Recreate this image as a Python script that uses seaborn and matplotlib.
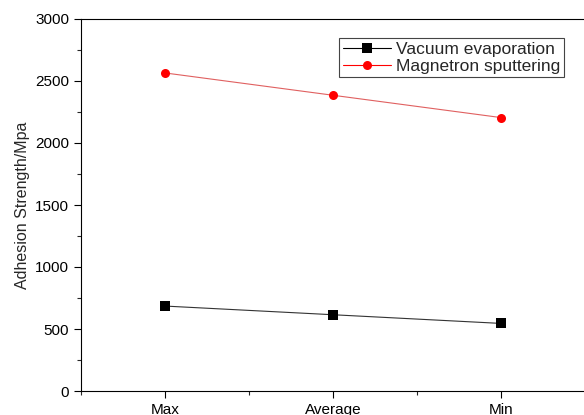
import matplotlib
matplotlib.use("Agg")
import matplotlib.pyplot as plt
import seaborn as sns
import pandas as pd
from matplotlib.ticker import MultipleLocator

categories = ["Max", "Average", "Min"]
vacuum = [685, 615, 545]
magnetron = [2565, 2385, 2205]
series_names = ["Vacuum evaporation", "Magnetron sputtering"]

df = pd.DataFrame({
    "cat": list(range(len(categories))) * 2,
    "value": vacuum + magnetron,
    "series": [series_names[0]] * 3 + [series_names[1]] * 3,
})

sns.set_style("ticks")
plt.rcParams["font.family"] = ["Liberation Sans", "DejaVu Sans"]

fig = plt.figure(figsize=(5.84, 4.15), dpi=100)
ax = fig.add_axes([81 / 584, 24 / 415, 504 / 584, 372 / 415])

sns.lineplot(data=df, x="cat", y="value", hue="series", style="series",
             markers={series_names[0]: "s", series_names[1]: "o"},
             dashes=False,
             palette={series_names[0]: "black", series_names[1]: "red"},
             linewidth=0.8, markersize=6.5, markeredgewidth=0, ax=ax)

for line, c in zip(ax.lines, ["#333333", "#e06060"]):
    line.set_color(c)
    line.set_markerfacecolor("black" if c == "#333333" else "red")
    line.set_markeredgecolor("black" if c == "#333333" else "red")

ax.set_xlim(-0.5, 2.5)
ax.set_ylim(0, 3000)
ax.set_xticks(range(len(categories)))
ax.set_xticklabels(categories)
ax.xaxis.set_minor_locator(MultipleLocator(0.5))
ax.yaxis.set_major_locator(MultipleLocator(500))
ax.yaxis.set_minor_locator(MultipleLocator(250))
ax.tick_params(axis="both", which="major", direction="out", length=5, width=0.8,
               labelsize=11, colors="black")
ax.tick_params(axis="both", which="minor", direction="out", length=3, width=0.8)
ax.set_xlabel("")
ax.set_ylabel("Adhesion Strength/Mpa", fontsize=11.5)
for s in ax.spines.values():
    s.set_linewidth(0.8)
    s.set_color("black")
ax.spines["right"].set_visible(False)

handles, labels = ax.get_legend_handles_labels()
for h, c in zip(handles, ["black", "red"]):
    h.set_markerfacecolor(c)
    h.set_markeredgecolor(c)
leg = ax.legend(handles, labels, loc="upper left", bbox_to_anchor=(0.512, 0.948),
                fontsize=12.5, frameon=True, fancybox=False, framealpha=1,
                edgecolor="#444444", handlelength=2.8, borderpad=0.2,
                labelspacing=0.1, handletextpad=0.3, borderaxespad=0)
leg.get_frame().set_linewidth(0.8)

fig.savefig("out.png", dpi=100)
